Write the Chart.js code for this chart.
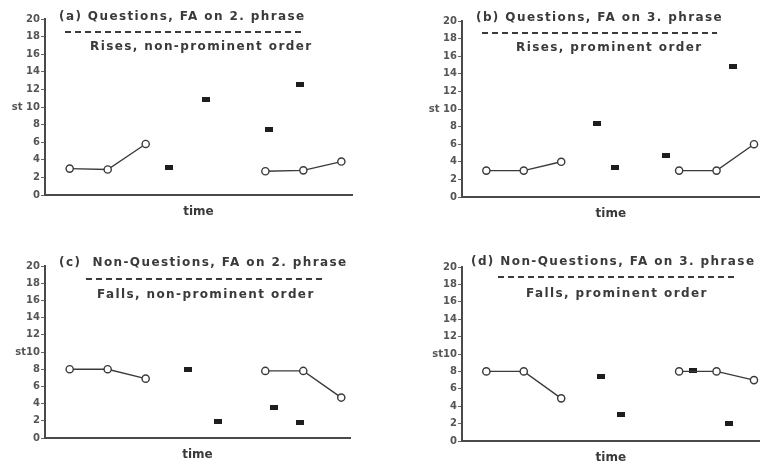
<!DOCTYPE html>
<html lang="en">
<head>
<meta charset="UTF-8">
<title>F0 contours of questions and non-questions</title>
<script src="https://cdn.jsdelivr.net/npm/chart.js"></script>
<style>
  body { margin: 0; background: #fff; }
  canvas { position: absolute; }
</style>
</head>
<body>
<canvas id="chartA" width="380" height="232" style="left:0;top:0"></canvas>
<canvas id="chartB" width="385" height="232" style="left:380px;top:0"></canvas>
<canvas id="chartC" width="380" height="224" style="left:0;top:240px"></canvas>
<canvas id="chartD" width="385" height="224" style="left:380px;top:240px"></canvas>

<script>
// semitone axis
const yTickValues = [0, 2, 4, 6, 8, 10, 12, 14, 16, 18, 20];

// accent peaks (open circles), same time slots in every panel
const circleTime = [0.65, 1.65, 2.65, 5.8, 6.8, 7.8];

const circlesA = [3.0, 2.9, 5.8, 2.7, 2.8, 3.8];
const squareTimeA = [3.26, 4.24, 5.9, 6.7];
const squaresA = [3.1, 10.9, 7.5, 12.6];

const circlesB = [3.0, 3.0, 4.0, 3.0, 3.0, 6.0];
const squareTimeB = [3.6, 4.1, 5.45, 7.24];
const squaresB = [8.3, 3.3, 4.7, 14.8];

const circlesC = [8.0, 8.0, 6.9, 7.8, 7.8, 4.7];
const squareTimeC = [3.76, 4.55, 6.03, 6.71];
const squaresC = [8.0, 1.9, 3.6, 1.8];

const circlesD = [8.0, 8.0, 4.9, 8.0, 8.0, 7.0];
const squareTimeD = [3.71, 4.24, 6.18, 7.13];
const squaresD = [7.4, 3.0, 8.1, 2.0];

const ink = '#3a3a3a';
const axisInk = '#4a4a4a';
const textFont = 'bold 12px "DejaVu Sans"';

// small filled bar used as marker for the boundary tones
const barMarker = document.createElement('canvas');
barMarker.width = 8;
barMarker.height = 5;
(function () {
    const c = barMarker.getContext('2d');
    c.fillStyle = '#1e1e1e';
    c.fillRect(0, 0, 8, 5);
})();

// heading, dashed rule, subheading and the "time" label
const panelText = {
    id: 'panelText',
    afterDraw(chart, args, opts) {
        const ctx = chart.ctx;
        const area = chart.chartArea;
        ctx.save();
        ctx.fillStyle = ink;
        ctx.font = textFont;
        ctx.letterSpacing = '1.4px';
        ctx.textBaseline = 'middle';
        ctx.textAlign = 'left';
        ctx.fillText(opts.title, opts.titleX, opts.titleY);
        ctx.fillText(opts.sub, opts.subX, opts.subY);

        ctx.strokeStyle = ink;
        ctx.lineWidth = 1.8;
        ctx.setLineDash([6, 4]);
        ctx.beginPath();
        ctx.moveTo(opts.dashFrom, opts.dashY);
        ctx.lineTo(opts.dashTo, opts.dashY);
        ctx.stroke();

        ctx.letterSpacing = '0px';
        ctx.textAlign = 'center';
        ctx.fillText('time', (area.left + area.right) / 2, area.bottom + 17);
        ctx.restore();
    }
};

function makePanel(id, circles, squareTime, squares, box, text, stLabel) {
    const circlePoints = circleTime.map((t, i) => ({ x: t, y: circles[i] }));
    const squarePoints = squareTime.map((t, i) => ({ x: t, y: squares[i] }));

    new Chart(document.getElementById(id), {
        type: 'scatter',
        data: {
            datasets: [{
                data: circlePoints,
                showLine: true,
                borderColor: ink,
                borderWidth: 1.4,
                pointRadius: 3.6,
                pointBorderWidth: 1.4,
                pointBackgroundColor: '#fff',
                pointBorderColor: ink,
                // no line between the two phrase groups
                segment: {
                    borderColor: c => c.p0DataIndex === 2 ? 'rgba(0,0,0,0)' : ink
                },
                clip: false
            }, {
                data: squarePoints,
                showLine: false,
                pointStyle: barMarker,
                clip: false
            }]
        },
        options: {
            responsive: false,
            animation: false,
            layout: {
                padding: { left: 0, top: box.top, right: box.width - box.right, bottom: 0 }
            },
            plugins: {
                legend: { display: false },
                tooltip: { enabled: false },
                panelText: text
            },
            scales: {
                x: {
                    type: 'linear',
                    min: 0,
                    max: box.xMax,
                    ticks: { display: false },
                    grid: { drawOnChartArea: false, drawTicks: false },
                    border: { color: axisInk, width: 2 },
                    afterFit: s => { s.height = box.height - box.bottom; }
                },
                y: {
                    min: 0,
                    max: 20,
                    afterBuildTicks: s => { s.ticks = yTickValues.map(v => ({ value: v })); },
                    ticks: {
                        color: '#555',
                        padding: 1,
                        font: { family: '"DejaVu Sans"', size: 10, weight: 'bold' },
                        callback: v => v === 10 ? stLabel : String(v)
                    },
                    grid: { drawOnChartArea: false, tickLength: 4, color: '#666', lineWidth: 1 },
                    border: { color: axisInk, width: 2 },
                    afterFit: s => { s.width = box.left; }
                }
            }
        },
        plugins: [panelText]
    });
}

makePanel('chartA', circlesA, squareTimeA, squaresA,
    { width: 380, height: 232, left: 45, right: 352, top: 19, bottom: 195, xMax: 8.08 },
    { title: '(a) Questions, FA on 2. phrase', titleX: 59, titleY: 17,
      dashFrom: 65, dashTo: 302, dashY: 32,
      sub: 'Rises, non-prominent order', subX: 90, subY: 47 },
    'st 10');

makePanel('chartB', circlesB, squareTimeB, squaresB,
    { width: 385, height: 232, left: 82, right: 384, top: 21, bottom: 197, xMax: 7.95 },
    { title: '(b) Questions, FA on 3. phrase', titleX: 96, titleY: 18,
      dashFrom: 102, dashTo: 337, dashY: 33,
      sub: 'Rises, prominent order', subX: 136, subY: 48 },
    'st 10');

makePanel('chartC', circlesC, squareTimeC, squaresC,
    { width: 380, height: 224, left: 45, right: 350, top: 26, bottom: 198, xMax: 8.03 },
    { title: '(c)  Non-Questions, FA on 2. phrase', titleX: 59, titleY: 23,
      dashFrom: 86, dashTo: 322, dashY: 39,
      sub: 'Falls, non-prominent order', subX: 97, subY: 55 },
    'st10');

makePanel('chartD', circlesD, squareTimeD, squaresD,
    { width: 385, height: 224, left: 82, right: 384, top: 27, bottom: 201, xMax: 7.95 },
    { title: '(d) Non-Questions, FA on 3. phrase', titleX: 91, titleY: 22,
      dashFrom: 118, dashTo: 357, dashY: 37,
      sub: 'Falls, prominent order', subX: 146, subY: 54 },
    'st10');
</script>
</body>
</html>
